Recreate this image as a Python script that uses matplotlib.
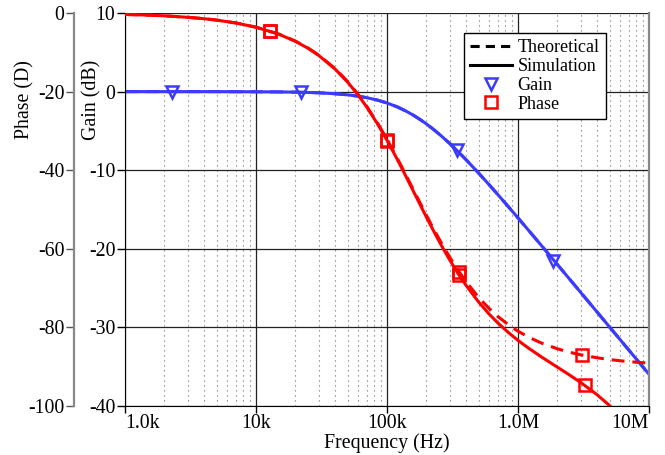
import matplotlib
matplotlib.use("Agg")
import matplotlib.pyplot as plt
from matplotlib.lines import Line2D
from matplotlib.ticker import FixedLocator, NullFormatter, NullLocator

plt.rcParams['font.family'] = ['Liberation Serif', 'DejaVu Serif']
plt.rcParams['axes.unicode_minus'] = False

# ---- data ----
freq_khz = [1, 1.5, 2, 3, 4, 5, 7, 10, 15, 20, 25, 30, 40, 50, 60, 70, 85, 100, 120, 140,
            160, 180, 200, 230, 260, 300, 350, 400, 500, 600, 700, 850, 1000, 1200, 1500,
            2000, 2500, 3000, 4000, 5000, 6000, 7000, 8500, 10000]
gain_db = [0.00, 0.00, 0.00, 0.00, 0.00, 0.00, -0.01, -0.02, -0.04, -0.07, -0.11, -0.15,
           -0.27, -0.41, -0.58, -0.77, -1.09, -1.45, -1.95, -2.49, -3.03, -3.58, -4.11,
           -4.90, -5.65, -6.58, -7.66, -8.64, -10.36, -11.82, -13.08, -14.70, -16.07,
           -17.62, -19.53, -22.01, -23.94, -25.52, -28.01, -29.95, -31.53, -32.87, -34.55,
           -35.96]
phase_theory = [-0.36, -0.54, -0.72, -1.08, -1.44, -1.80, -2.52, -3.60, -5.38, -7.16,
                -8.93, -10.68, -14.11, -17.44, -20.66, -23.74, -28.11, -32.14, -37.01,
                -41.34, -45.15, -48.51, -51.49, -55.31, -58.53, -62.05, -65.56, -68.31,
                -72.36, -75.14, -77.19, -79.40, -80.96, -82.45, -83.94, -85.45, -86.36,
                -86.96, -87.72, -88.18, -88.48, -88.70, -88.93, -89.09]
phase_sim = [-0.36, -0.54, -0.72, -1.09, -1.45, -1.81, -2.53, -3.62, -5.42, -7.21, -8.99,
             -10.75, -14.20, -17.56, -20.80, -23.91, -28.31, -32.38, -37.29, -41.67,
             -45.53, -48.93, -51.96, -55.84, -59.14, -62.75, -66.38, -69.24, -73.53,
             -76.55, -78.83, -81.38, -83.30, -85.25, -87.45, -90.13, -92.21, -93.98,
             -97.08, -99.88, -102.52, -105.08, -108.82, -112.49]

gain_mk_khz = [2.3, 21.9, 344, 1860]
gain_mk_v = [0.00, -0.08, -7.39, -21.5]
ph_th_mk_khz = [12.9, 100, 356, 3100]
ph_th_mk_v = [-4.6, -32.3, -65.9, -86.9]
ph_sim_mk_khz = [12.9, 100, 356, 3240]
ph_sim_mk_v = [-4.6, -32.5, -66.6, -94.7]

xticks_khz = [1, 10, 100, 1000, 10000]
xticklabels = ['1.0k', '10k', '100k', '1.0M', '10M']
gain_ticks = [10, 0, -10, -20, -30, -40]
phase_ticks = [0, -20, -40, -60, -80, -100]

RED = '#ff0000'
BLUE = '#3b3bff'
FS = 14.3
DASH = (0, (4.2, 2.6))

fig = plt.figure(figsize=(6.65, 4.55), dpi=100)
L, R, B, T = 125/665, 649/665, 1-406/455, 1-13/455
ax = fig.add_axes([L, B, R-L, T-B])
ax.set_xscale('log')
ax.set_xlim(1, 10000)
ax.set_ylim(-40, 10)

# grid
ax.xaxis.set_major_locator(FixedLocator(xticks_khz))
minors = [m * 10**e for e in range(0, 4) for m in range(2, 10)]
ax.xaxis.set_minor_locator(FixedLocator(minors))
ax.xaxis.set_minor_formatter(NullFormatter())
ax.grid(True, which='major', axis='both', color='#222222', lw=0.9)
ax.grid(True, which='minor', axis='x', color='#6a6a6a', lw=0.8, ls=(0, (1, 3.5)))
ax.set_axisbelow(True)
ax.tick_params(axis='x', which='minor', length=0)
ax.set_xticks(xticks_khz)
ax.set_xticklabels(xticklabels, fontsize=FS)
labs = ax.get_xticklabels()
labs[0].set_ha('left')
labs[-1].set_ha('right')
ax.tick_params(axis='x', which='major', direction='out', length=5, width=1, pad=0.5)
ax.set_yticks(gain_ticks)
ax.set_yticklabels([str(v) for v in gain_ticks], fontsize=FS)
ax.tick_params(axis='y', direction='out', length=6, width=1, pad=1)
ax.spines['top'].set_visible(False)
ax.spines['right'].set_color('#888888')
ax.spines['right'].set_linewidth(1.6)

# gain curves
ax.plot(freq_khz, gain_db, color=BLUE, lw=2.2, ls=DASH)
ax.plot(freq_khz, gain_db, color=BLUE, lw=2.2)
ax.plot(gain_mk_khz, gain_mk_v, ls='none', marker='v', ms=9, mfc='none', mec=BLUE, mew=1.8)

# phase axis
ax2 = ax.twinx()
ax2.set_ylim(-100, 0)
ax2.set_xlim(1, 10000)
ax2.spines['left'].set_position(('outward', 51 * 72 / 100))
ax2.spines['left'].set_color('#888888')
ax2.spines['left'].set_linewidth(1.6)
ax2.spines['right'].set_visible(False)
ax2.spines['top'].set_visible(False)
ax2.spines['bottom'].set_visible(False)
ax2.yaxis.set_ticks_position('left')
ax2.set_yticks(phase_ticks)
ax2.set_yticklabels([str(v) for v in phase_ticks], fontsize=FS)
ax2.tick_params(axis='y', direction='out', length=6, width=1, color='#555555', pad=1)
ax2.yaxis.set_minor_locator(NullLocator())

ax2.plot(freq_khz, phase_theory, color=RED, lw=2.2, ls=DASH)
ax2.plot(freq_khz, phase_sim, color=RED, lw=2.2)
ax2.plot(ph_th_mk_khz, ph_th_mk_v, ls='none', marker='s', ms=8, mfc='none', mec=RED, mew=1.8)
ax2.plot(ph_sim_mk_khz, ph_sim_mk_v, ls='none', marker='s', ms=8, mfc='none', mec=RED, mew=1.8)

# labels
fig.text(25/665, 1-100/455, 'Phase (D)', rotation=90, ha='center', va='center', fontsize=FS)
fig.text(92/665, 1-100/455, 'Gain (dB)', rotation=90, ha='center', va='center', fontsize=FS)
fig.text(387/665, 1-443/455, 'Frequency (Hz)', ha='center', va='center', fontsize=FS)

handles = [
    Line2D([], [], color='black', lw=2.2, ls=(0, (3, 2))),
    Line2D([], [], color='black', lw=2.2),
    Line2D([], [], ls='none', marker='v', ms=9, mfc='none', mec=BLUE, mew=1.8),
    Line2D([], [], ls='none', marker='s', ms=8, mfc='none', mec=RED, mew=1.8),
]
leg = ax2.legend(handles, ['Theoretical', 'Simulation', 'Gain', 'Phase'],
                 loc='upper left', bbox_to_anchor=(0.647, 0.949), borderaxespad=0,
                 fontsize=13, fancybox=False, framealpha=1, edgecolor='black',
                 handlelength=2.3, handletextpad=0.3, labelspacing=0.1, borderpad=0.35)
leg.get_frame().set_linewidth(1.0)

fig.savefig('out.png', dpi=100)
